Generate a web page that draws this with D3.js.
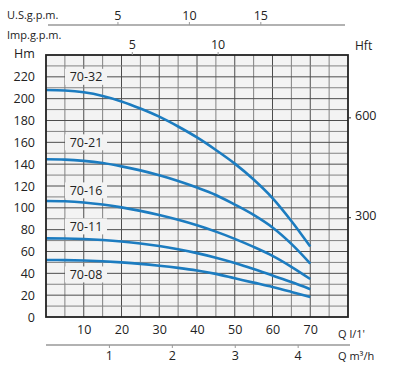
<!DOCTYPE html>
<html><head><meta charset="utf-8">
<script src="https://cdn.jsdelivr.net/npm/d3@7"></script>
<style>
body{margin:0;background:#fff;}
text{font-family:"Open Sans",sans-serif;fill:#222;}
</style></head>
<body><svg id="c" width="400" height="378"></svg>
<script>
const flowLmin = [0,5,10,15,20,25,30,35,40,45,50,55,60,65,70];
const head_70_32 = [208,207.5,205.8,202.5,197.5,191,183.5,174.5,164.5,153,140.5,126,109,88,64.5];
const head_70_21 = [144.5,144.2,143,141,138,134.3,129.8,124.6,118.6,111.8,103,93.5,82,67,49];
const head_70_16 = [106.3,106,104.9,103,100.4,97.2,93.4,89,84,78.2,71.6,64.2,56,46,34.8];
const head_70_11 = [72,71.9,71.4,70.5,69.2,67.4,65,62,58.5,54.3,49.5,44,38,32,25.5];
const head_70_08 = [52.2,52.1,51.7,51,50,48.7,47,45,42.6,39.5,35.5,31.5,27.5,23,18.3];
const seriesNames = ["70-32","70-21","70-16","70-11","70-08"];
const labelHm = [220,160,116,83,39];
const labelQ = 10.6;
const qTicks = [10,20,30,40,50,60,70];
const hmTicks = [0,20,40,60,80,100,120,140,160,180,200,220];
const hftTicks = [300,600];
const usTicks = [5,10,15];
const impTicks = [5,10];
const m3Ticks = [1,2,3,4];

const svg = d3.select("#c");
const x = d3.scaleLinear().domain([0,80]).range([46,348]);
const y = d3.scaleLinear().domain([0,240]).range([317,55]);
const yFt = d3.scaleLinear().domain([0,240/0.3048]).range([317,55]);
const xUS = d3.scaleLinear().domain([0,80/3.785]).range([46,348]);
const xImp = d3.scaleLinear().domain([0,80/4.546]).range([46,348]);
const xM3 = d3.scaleLinear().domain([0,80*0.06]).range([46,348]);
const fmt = d3.format("d");

// plot background
svg.append("rect").attr("x",x(0)).attr("y",y(240)).attr("width",x(80)-x(0)).attr("height",y(0)-y(240)).attr("fill","#f3f3f3");

// grid
const g = svg.append("g");
d3.range(5,80,5).forEach(v=>{
  g.append("line").attr("x1",x(v)).attr("x2",x(v)).attr("y1",y(0)).attr("y2",y(240))
   .attr("stroke", v%10===0?"#4d4d4d":"#828282").attr("stroke-width",1);
});
d3.range(10,240,10).forEach(v=>{
  g.append("line").attr("x1",x(0)).attr("x2",x(80)).attr("y1",y(v)).attr("y2",y(v))
   .attr("stroke", v%20===0?"#4d4d4d":"#828282").attr("stroke-width",1);
});

// label boxes (cut grid)
seriesNames.forEach((n,i)=>{
  svg.append("rect").attr("x",x(labelQ)-21).attr("y",y(labelHm[i])-8).attr("width",42).attr("height",16).attr("fill","#f3f3f3");
});

// curves
const allHeads = [head_70_32,head_70_21,head_70_16,head_70_11,head_70_08];
const line = d3.line().x(d=>x(d[0])).y(d=>y(d[1])).curve(d3.curveCatmullRom.alpha(0.5));
allHeads.forEach(h=>{
  svg.append("path").datum(flowLmin.map((q,i)=>[q,h[i]])).attr("d",line)
    .attr("fill","none").attr("stroke","#1c7cc0").attr("stroke-width",2.6);
});

// curve labels
seriesNames.forEach((n,i)=>{
  svg.append("text").attr("x",x(labelQ)).attr("y",y(labelHm[i])).attr("text-anchor","middle")
    .attr("dominant-baseline","central").attr("font-size",12.5).text(n);
});

// border
svg.append("rect").attr("x",x(0)).attr("y",y(240)).attr("width",x(80)-x(0)).attr("height",y(0)-y(240))
  .attr("fill","none").attr("stroke","#222").attr("stroke-width",1.8);

// left axis Hm
const ax = svg.append("g").attr("transform",`translate(${x(0)-11},0)`)
  .call(d3.axisLeft(y).tickValues(hmTicks).tickSize(0).tickPadding(0));
ax.select(".domain").remove();
ax.selectAll("text").attr("font-size",12.5).attr("font-family","Open Sans").attr("fill","#222");

// bottom axis l/min
const bx = svg.append("g").attr("transform",`translate(0,${y(0)+8})`)
  .call(d3.axisBottom(x).tickValues(qTicks).tickSize(0).tickPadding(0));
bx.select(".domain").remove();
bx.selectAll("text").attr("font-size",12.5).attr("font-family","Open Sans").attr("fill","#222");

// right axis Hft
const rx = svg.append("g").attr("transform",`translate(${x(80)},0)`)
  .call(d3.axisRight(yFt).tickValues(hftTicks).tickSize(3).tickPadding(4));
rx.select(".domain").remove();
rx.selectAll("line").attr("stroke","#333");
rx.selectAll("text").attr("font-size",12.5).attr("font-family","Open Sans").attr("fill","#222").attr("dy","0.2em");

// m3/h axis
const mx = svg.append("g").attr("transform","translate(0,345)")
  .call(d3.axisBottom(xM3).tickValues(m3Ticks).tickFormat(fmt).tickSize(3).tickPadding(3));
mx.select(".domain").attr("d",`M46,0H350`).attr("stroke","#999").attr("stroke-width",1.5);
mx.selectAll("line").attr("stroke","#999");
mx.selectAll("text").attr("font-size",12.5).attr("font-family","Open Sans").attr("fill","#222");

// US gpm axis
const ux = svg.append("g").attr("transform","translate(0,25)")
  .call(d3.axisTop(xUS).tickValues(usTicks).tickFormat(fmt).tickSize(3).tickPadding(2));
ux.select(".domain").attr("d",`M48,0H345`).attr("stroke","#999").attr("stroke-width",1.5);
ux.selectAll("line").attr("stroke","#999");
ux.selectAll("text").attr("font-size",12.5).attr("font-family","Open Sans").attr("fill","#222");

// Imp gpm axis
const ix = svg.append("g").attr("transform",`translate(0,${y(240)})`)
  .call(d3.axisTop(xImp).tickValues(impTicks).tickFormat(fmt).tickSize(3).tickPadding(3));
ix.select(".domain").remove();
ix.selectAll("line").attr("stroke","#999");
ix.selectAll("text").attr("font-size",12.5).attr("font-family","Open Sans").attr("fill","#222");

// titles
svg.append("text").attr("x",7).attr("y",14).attr("dominant-baseline","central").attr("font-size",11).text("U.S.g.p.m.");
svg.append("text").attr("x",7).attr("y",34).attr("dominant-baseline","central").attr("font-size",11).text("Imp.g.p.m.");
svg.append("text").attr("x",14).attr("y",53).attr("dominant-baseline","central").attr("font-size",12.5).text("Hm");
svg.append("text").attr("x",355).attr("y",45).attr("dominant-baseline","central").attr("font-size",12).text("Hft");
svg.append("text").attr("x",338).attr("y",333).attr("dominant-baseline","central").attr("font-size",11).text("Q l/1'");
svg.append("text").attr("x",338).attr("y",355).attr("dominant-baseline","central").attr("font-size",11).text("Q m³/h");
</script></body></html>
